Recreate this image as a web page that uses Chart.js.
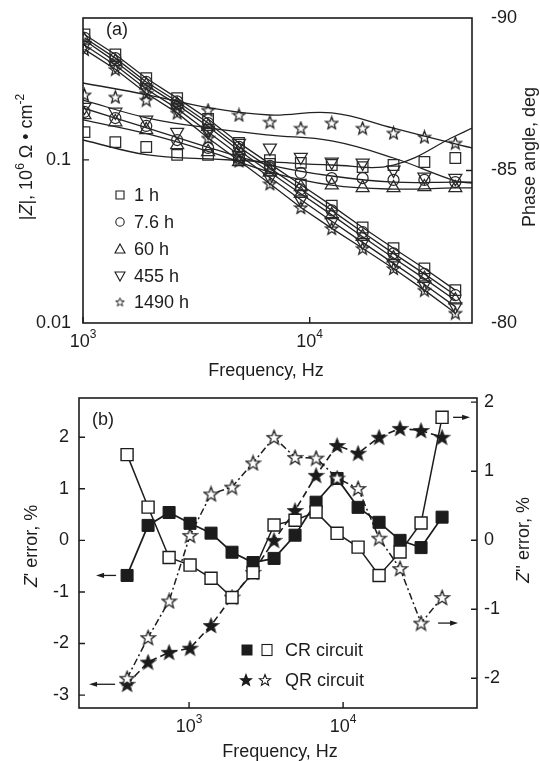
<!DOCTYPE html>
<html>
<head>
<meta charset="utf-8">
<title>EIS chart</title>
<script src="https://cdn.jsdelivr.net/npm/chart.js@4.4.1/dist/chart.umd.min.js"></script>
<style>
  html, body { margin:0; padding:0; background:#fff; }
  body { width:540px; height:761px; position:relative; overflow:hidden; }
  .w { position:absolute; left:0; width:540px; }
  #wa { top:0; height:380px; }
  #wb { top:380px; height:381px; }
</style>
</head>
<body>
<div class="w" id="wa"><canvas id="ca"></canvas></div>
<div class="w" id="wb"><canvas id="cb"></canvas></div>
<script>
// ---------------- Panel (a) data ----------------
const freqA = [1015, 1389, 1901, 2602, 3563, 4877, 6676, 9138, 12510, 17120, 23430, 32070, 43900];
const labelsA = ['1 h', '7.6 h', '60 h', '455 h', '1490 h'];
// |Z|, 10^6 ohm cm^2
const z1h    = [0.586, 0.442, 0.316, 0.239, 0.178, 0.127, 0.0945, 0.0704, 0.0524, 0.0385, 0.0287, 0.0216, 0.0159];
const z7_6h  = [0.560, 0.420, 0.300, 0.228, 0.168, 0.120, 0.0890, 0.0660, 0.0490, 0.0360, 0.0267, 0.0200, 0.0148];
const z60h   = [0.540, 0.400, 0.287, 0.218, 0.160, 0.114, 0.0840, 0.0620, 0.0460, 0.0338, 0.0250, 0.0187, 0.0138];
const z455h  = [0.505, 0.380, 0.272, 0.206, 0.148, 0.107, 0.0780, 0.0570, 0.0420, 0.0312, 0.0232, 0.0172, 0.0126];
const z1490h = [0.475, 0.359, 0.256, 0.194, 0.136, 0.0986, 0.0714, 0.0510, 0.0380, 0.0287, 0.0216, 0.0159, 0.0115];
// phase angle, deg (markers)
const p1h    = [-86.26, -85.93, -85.77, -85.51, -85.51, -85.34, -85.34, -85.25, -85.18, -85.11, -85.18, -85.28, -85.41];
const p7_6h  = [-86.92, -86.72, -86.46, -86.00, -85.74, -85.41, -85.15, -84.92, -84.75, -84.75, -84.69, -84.69, -84.62];
const p60h   = [-86.82, -86.59, -86.33, -85.84, -85.61, -85.28, -84.95, -84.46, -84.52, -84.43, -84.43, -84.46, -84.43];
const p455h  = [-87.08, -86.92, -86.66, -86.26, -86.33, -85.90, -85.74, -85.44, -85.28, -85.25, -85.02, -84.79, -84.75];
const p1490h = [-87.48, -87.41, -87.31, -87.15, -86.98, -86.82, -86.59, -86.39, -86.56, -86.39, -86.23, -86.10, -85.90];
// phase angle fitted curves
const fitFreqA = [1000, 1930, 3630, 6670, 12510, 23430, 43900, 52000];
const f1h    = [-86.00, -85.51, -85.38, -85.28, -85.18, -85.18, -86.13, -86.39];
const f7_6h  = [-87.05, -86.39, -85.74, -85.18, -84.82, -84.62, -84.62, -84.62];
const f60h   = [-86.66, -86.20, -85.61, -84.95, -84.52, -84.39, -84.43, -84.43];
const f455h  = [-87.31, -86.72, -86.39, -86.16, -85.97, -85.41, -84.66, -84.59];
const f1490h = [-87.87, -87.48, -87.05, -86.82, -86.89, -86.39, -85.87, -85.74];
const xTicksA  = [1000, 10000];
const yTicksAL = [0.01, 0.1];
const yTicksAR = [-90, -85, -80];

// ---------------- Panel (b) data ----------------
const freqB  = [396, 542, 742, 1015, 1389, 1901, 2602, 3563, 4877, 6676, 9138, 12510, 17120, 23430, 32070, 43900];
const crReal = [-0.68, 0.29, 0.54, 0.33, 0.14, -0.23, -0.43, -0.35, 0.10, 0.74, 1.20, 0.64, 0.35, 0.00, -0.14, 0.45];
const crImag = [1.24, 0.48, -0.25, -0.36, -0.55, -0.83, -0.47, 0.22, 0.29, 0.41, 0.10, -0.10, -0.51, -0.17, 0.25, 1.78];
const qrReal = [-2.79, -2.36, -2.17, -2.09, -1.65, -1.10, -0.62, 0.00, 0.58, 1.26, 1.84, 1.69, 2.00, 2.17, 2.13, 2.00];
const qrImag = [-2.00, -1.41, -0.88, 0.07, 0.67, 0.77, 1.12, 1.49, 1.20, 1.19, 0.90, 0.75, 0.03, -0.41, -1.20, -0.83];
const xTicksB  = [1000, 10000];
const yTicksBL = [-3, -2, -1, 0, 1, 2];
const yTicksBR = [-2, -1, 0, 1, 2];

// ---------------- helpers ----------------
const FONT = '"Liberation Sans", Arial, Helvetica, sans-serif';
const INK = '#1c1c1c';
const N = '18px ' + FONT, IT = 'italic 18px ' + FONT, SUP = '12px ' + FONT;
Chart.defaults.font.family = FONT;
Chart.defaults.font.size = 18;
Chart.defaults.color = INK;

const pts = (xs, ys) => xs.map((x, i) => ({x: x, y: ys[i]}));
const noPad = s => { s.paddingTop = 0; s.paddingBottom = 0; s.paddingLeft = 0; s.paddingRight = 0; };

function starCanvas(size, fill, lw) {
  const c = document.createElement('canvas');
  c.width = size; c.height = size;
  const g = c.getContext('2d');
  const R = size / 2 - 1, r = R * 0.42, cx = size / 2, cy = size / 2 + R * 0.08;
  g.beginPath();
  for (let i = 0; i < 10; i++) {
    const a = -Math.PI / 2 + i * Math.PI / 5, rad = (i % 2) ? r : R;
    g.lineTo(cx + rad * Math.cos(a), cy + rad * Math.sin(a));
  }
  g.closePath();
  g.fillStyle = fill; g.fill();
  g.lineWidth = lw; g.strokeStyle = INK; g.lineJoin = 'miter'; g.stroke();
  return c;
}
const starA   = starCanvas(15, 'rgba(255,255,255,0)', 1.25);
const starLeg = starCanvas(11, 'rgba(255,255,255,0)', 1.0);
const starOpenB = starCanvas(17, '#ffffff', 1.3);
const starFillB = starCanvas(17, INK, 1.2);
const starLegO = starCanvas(14, '#ffffff', 1.1);
const starLegF = starCanvas(14, INK, 1.1);

function rich(ctx, parts, x, y, align) {
  let w = 0;
  parts.forEach(p => { ctx.font = p.f; p.w = ctx.measureText(p.t).width; w += p.w; });
  let cx = align === 'center' ? x - w / 2 : (align === 'right' ? x - w : x);
  ctx.textAlign = 'left';
  parts.forEach(p => { ctx.font = p.f; ctx.fillText(p.t, cx, y + (p.dy || 0)); cx += p.w; });
}
const pow10 = (v) => [{t: '10', f: N}, {t: String(Math.round(Math.log10(v))), f: SUP, dy: -7}];

function frame(chart, xt, ylt, yrt) {
  const {ctx, chartArea: a, scales: s} = chart;
  ctx.save();
  ctx.strokeStyle = INK; ctx.lineWidth = 1.6;
  ctx.strokeRect(a.left, a.top, a.right - a.left, a.bottom - a.top);
  ctx.lineWidth = 1.4;
  ctx.beginPath();
  xt.forEach(v => { const p = s.x.getPixelForValue(v); ctx.moveTo(p, a.bottom); ctx.lineTo(p, a.bottom - 6); });
  ylt.forEach(v => { const p = s.yL.getPixelForValue(v); ctx.moveTo(a.left, p); ctx.lineTo(a.left + 6, p); });
  yrt.forEach(v => { const p = s.yR.getPixelForValue(v); ctx.moveTo(a.right, p); ctx.lineTo(a.right - 6, p); });
  ctx.stroke();
  ctx.fillStyle = INK; ctx.textBaseline = 'middle';
  xt.forEach(v => rich(ctx, pow10(v), s.x.getPixelForValue(v), a.bottom + 19, 'center'));
  ctx.restore();
}

function vtitle(ctx, parts, x, y) {
  ctx.save();
  ctx.translate(x, y); ctx.rotate(-Math.PI / 2);
  ctx.fillStyle = INK; ctx.textBaseline = 'middle';
  rich(ctx, parts, 0, 0, 'center');
  ctx.restore();
}

function legMarker(ctx, type, x, y) {
  ctx.save();
  ctx.strokeStyle = INK; ctx.lineWidth = 1.1;
  ctx.beginPath();
  if (type === 'rect') ctx.rect(x - 4, y - 4, 8, 8);
  else if (type === 'circle') ctx.arc(x, y, 4.2, 0, Math.PI * 2);
  else if (type === 'up') { ctx.moveTo(x, y - 5); ctx.lineTo(x + 5, y + 4); ctx.lineTo(x - 5, y + 4); ctx.closePath(); }
  else if (type === 'down') { ctx.moveTo(x, y + 5); ctx.lineTo(x + 5, y - 4); ctx.lineTo(x - 5, y - 4); ctx.closePath(); }
  ctx.stroke();
  if (type === 'star') ctx.drawImage(starLeg, x - 5.5, y - 5.5);
  ctx.restore();
}

function arrow(ctx, x1, y, x2) {
  const d = Math.sign(x2 - x1);
  ctx.beginPath(); ctx.moveTo(x1, y); ctx.lineTo(x2 - d * 4, y); ctx.stroke();
  ctx.beginPath(); ctx.moveTo(x2, y); ctx.lineTo(x2 - d * 8, y - 2.6); ctx.lineTo(x2 - d * 8, y + 2.6); ctx.closePath(); ctx.fill();
}

// ---------------- Panel (a) chart ----------------
const styleA = [
  {ps: 'rect', r: 7.5, rot: 0},
  {ps: 'circle', r: 5.5, rot: 0},
  {ps: 'triangle', r: 7.5, rot: 0},
  {ps: 'triangle', r: 7.5, rot: 180},
  {ps: starA, r: 7, rot: 0}
];
const zSeries = [z1h, z7_6h, z60h, z455h, z1490h];
const pSeries = [p1h, p7_6h, p60h, p455h, p1490h];
const fSeries = [f1h, f7_6h, f60h, f455h, f1490h];

const dsA = [];
zSeries.forEach((z, k) => dsA.push({
  label: '|Z| ' + labelsA[k], data: pts(freqA, z), yAxisID: 'yL',
  showLine: true, borderColor: '#222', borderWidth: 1.3, tension: 0,
  pointStyle: styleA[k].ps, pointRadius: styleA[k].r, pointRotation: styleA[k].rot,
  pointBorderColor: '#2a2a2a', pointBackgroundColor: 'rgba(255,255,255,0)', pointBorderWidth: 1.25
}));
pSeries.forEach((p, k) => dsA.push({
  label: 'phase ' + labelsA[k], data: pts(freqA, p), yAxisID: 'yR',
  showLine: false,
  pointStyle: styleA[k].ps, pointRadius: styleA[k].r, pointRotation: styleA[k].rot,
  pointBorderColor: '#2a2a2a', pointBackgroundColor: 'rgba(255,255,255,0)', pointBorderWidth: 1.25
}));
fSeries.forEach((f, k) => dsA.push({
  label: 'fit ' + labelsA[k], data: pts(fitFreqA, f), yAxisID: 'yR',
  showLine: true, borderColor: '#222', borderWidth: 1.3, tension: 0.4, pointRadius: 0
}));

const decoA = {
  id: 'decoA',
  afterDraw(chart) {
    const {ctx, chartArea: a} = chart;
    frame(chart, xTicksA, [0.1], [-85]);
    ctx.save();
    ctx.fillStyle = INK; ctx.textBaseline = 'middle';
    rich(ctx, [{t: 'Frequency, Hz', f: N}], 266, a.bottom + 48, 'center');
    rich(ctx, [{t: '(a)', f: N}], a.left + 34, a.top + 12, 'center');
    const types = ['rect', 'circle', 'up', 'down', 'star'];
    const ly = [195, 222, 249, 276, 302];
    labelsA.forEach((t, k) => {
      legMarker(ctx, types[k], 120, ly[k]);
      ctx.fillStyle = INK;
      rich(ctx, [{t: t, f: N}], 134, ly[k] + 1, 'left');
    });
    ctx.restore();
    vtitle(ctx, [{t: '|', f: N}, {t: 'Z', f: IT}, {t: '|, 10', f: N}, {t: '6', f: SUP, dy: -6},
                 {t: ' \u03A9 \u2022 cm', f: N}, {t: '-2', f: SUP, dy: -6}], 27, 157);
    vtitle(ctx, [{t: 'Phase angle, deg', f: N}], 530, 157);
  }
};

new Chart(document.getElementById('ca'), {
  type: 'line',
  data: {datasets: dsA},
  options: {
    responsive: true, maintainAspectRatio: false, animation: false, devicePixelRatio: 1,
    layout: {padding: {top: 18, left: 0, right: 0, bottom: 0}},
    plugins: {legend: {display: false}, tooltip: {enabled: false}},
    scales: {
      x: {type: 'logarithmic', min: 1000, max: 52000,
          grid: {display: false, drawTicks: false}, border: {display: false}, ticks: {display: false},
          afterBuildTicks: s => { s.ticks = xTicksA.map(v => ({value: v})); },
          afterFit: s => { s.height = 57; noPad(s); }},
      yL: {type: 'logarithmic', position: 'left', min: 0.01, max: 0.74,
           grid: {display: false, drawTicks: false}, border: {display: false},
           ticks: {padding: 12, font: {size: 18}, callback: v => String(v)},
           afterBuildTicks: s => { s.ticks = yTicksAL.map(v => ({value: v})); },
           afterFit: s => { s.width = 83; noPad(s); }},
      yR: {type: 'linear', position: 'right', min: -90, max: -80, reverse: true,
           grid: {display: false, drawTicks: false}, border: {display: false},
           ticks: {padding: 19, font: {size: 18}},
           afterBuildTicks: s => { s.ticks = yTicksAR.map(v => ({value: v})); },
           afterFit: s => { s.width = 68; noPad(s); }}
    }
  },
  plugins: [decoA]
});

// ---------------- Panel (b) chart ----------------
const dsB = [
  {label: 'QR Z\'\'', data: pts(freqB, qrImag), yAxisID: 'yR', showLine: true,
   borderColor: INK, borderWidth: 1.5, borderDash: [7, 3, 2, 3], tension: 0,
   pointStyle: starOpenB, pointRadius: 8},
  {label: 'CR Z\'\'', data: pts(freqB, crImag), yAxisID: 'yR', showLine: true,
   borderColor: INK, borderWidth: 1.5, tension: 0,
   pointStyle: 'rect', pointRadius: 8.5, pointBackgroundColor: '#ffffff', pointBorderColor: INK, pointBorderWidth: 1.4},
  {label: 'CR Z\'', data: pts(freqB, crReal), yAxisID: 'yL', showLine: true,
   borderColor: INK, borderWidth: 1.7, tension: 0,
   pointStyle: 'rect', pointRadius: 8.5, pointBackgroundColor: INK, pointBorderColor: INK, pointBorderWidth: 1},
  {label: 'QR Z\'', data: pts(freqB, qrReal), yAxisID: 'yL', showLine: true,
   borderColor: INK, borderWidth: 1.6, borderDash: [7, 4], tension: 0,
   pointStyle: starFillB, pointRadius: 8}
];
// arrows: [dataset index, point index, direction, gap, length]
const arrowsB = [[2, 0, -1, 11, 20], [3, 0, -1, 12, 26], [1, 15, 1, 11, 17], [0, 14, 1, 17, 20]];

const decoB = {
  id: 'decoB',
  afterDatasetsDraw(chart) {
    const ctx = chart.ctx;
    ctx.save();
    ctx.strokeStyle = INK; ctx.fillStyle = INK; ctx.lineWidth = 1.3;
    arrowsB.forEach(([d, i, dir, gap, len]) => {
      const el = chart.getDatasetMeta(d).data[i];
      arrow(ctx, el.x + dir * gap, el.y, el.x + dir * (gap + len));
    });
    ctx.restore();
  },
  afterDraw(chart) {
    const {ctx, chartArea: a} = chart;
    frame(chart, xTicksB, yTicksBL, yTicksBR);
    ctx.save();
    ctx.fillStyle = INK; ctx.textBaseline = 'middle';
    rich(ctx, [{t: 'Frequency, Hz', f: N}], 280, a.bottom + 44, 'center');
    rich(ctx, [{t: '(b)', f: N}], a.left + 24, a.top + 22, 'center');
    // legend
    ctx.fillRect(241.5, 270 - 5.5, 11, 11);
    ctx.strokeStyle = INK; ctx.lineWidth = 1.1;
    ctx.strokeRect(262, 270 - 5.5, 10, 11);
    rich(ctx, [{t: 'CR circuit', f: N}], 285, 271, 'left');
    ctx.drawImage(starLegF, 239, 300 - 7);
    ctx.drawImage(starLegO, 258, 300 - 7);
    rich(ctx, [{t: 'QR circuit', f: N}], 285, 301, 'left');
    ctx.restore();
    vtitle(ctx, [{t: 'Z', f: IT}, {t: '\' error, %', f: N}], 32, 166);
    vtitle(ctx, [{t: 'Z', f: IT}, {t: '\'\' error, %', f: N}], 524, 160);
  }
};

new Chart(document.getElementById('cb'), {
  type: 'line',
  data: {datasets: dsB},
  options: {
    responsive: true, maintainAspectRatio: false, animation: false, devicePixelRatio: 1,
    layout: {padding: {top: 18, left: 0, right: 0, bottom: 0}},
    plugins: {legend: {display: false}, tooltip: {enabled: false}},
    scales: {
      x: {type: 'logarithmic', min: 193, max: 74000,
          grid: {display: false, drawTicks: false}, border: {display: false}, ticks: {display: false},
          afterBuildTicks: s => { s.ticks = xTicksB.map(v => ({value: v})); },
          afterFit: s => { s.height = 53; noPad(s); }},
      yL: {type: 'linear', position: 'left', min: -3.25, max: 2.76,
           grid: {display: false, drawTicks: false}, border: {display: false},
           ticks: {padding: 10, font: {size: 18}},
           afterBuildTicks: s => { s.ticks = yTicksBL.map(v => ({value: v})); },
           afterFit: s => { s.width = 79; noPad(s); }},
      yR: {type: 'linear', position: 'right', min: -2.43, max: 2.06,
           grid: {display: false, drawTicks: false}, border: {display: false},
           ticks: {padding: 7, font: {size: 18}},
           afterBuildTicks: s => { s.ticks = yTicksBR.map(v => ({value: v})); },
           afterFit: s => { s.width = 63; noPad(s); }}
    }
  },
  plugins: [decoB]
});
</script>
</body>
</html>
